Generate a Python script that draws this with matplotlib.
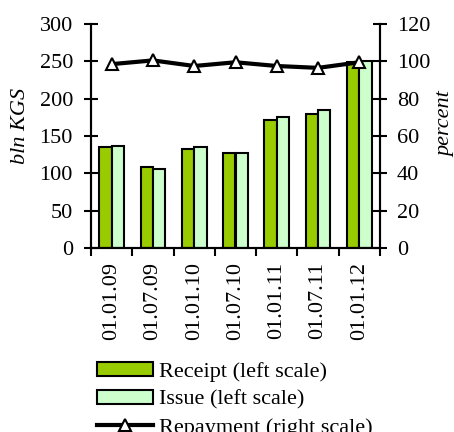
import numpy as np
import matplotlib.pyplot as plt
from matplotlib.lines import Line2D
from matplotlib.patches import Patch

plt.rcParams['font.family'] = ['Liberation Serif', 'DejaVu Serif']

dates = ["01.01.09", "01.07.09", "01.01.10", "01.07.10", "01.01.11", "01.07.11", "01.01.12"]
receipt = [135, 108, 132, 127, 172, 180, 249]
issue = [137, 106, 135, 127, 175, 185, 250]
repayment = [98.5, 100.5, 97.5, 99.5, 97.5, 96.5, 99.5]

fig = plt.figure(figsize=(4.54, 4.32), dpi=100)
ax = fig.add_axes([91 / 454, 1 - 248 / 432, (380 - 91) / 454, 224 / 432])
ax2 = ax.twinx()

x = np.arange(len(dates))
w = 0.3
ax.bar(x - w / 2, receipt, w, color="#99cc00", edgecolor="black", linewidth=1.5)
ax.bar(x + w / 2, issue, w, color="#ccffcc", edgecolor="black", linewidth=1.5)
ax2.plot(x, repayment, color="black", lw=3, marker="^", ms=8.5,
         mfc="white", mec="black", mew=1.5)

ax.set_xlim(-0.5, len(dates) - 0.5)
ax.set_ylim(0, 300)
ax2.set_ylim(0, 120)
ax.set_yticks(range(0, 301, 50))
ax2.set_yticks(range(0, 121, 20))

ax.set_xticks(x)
ax.set_xticklabels(dates, rotation=90, fontsize=16)
ax.tick_params(axis="x", length=0, pad=10)
ax.set_xticks(np.arange(-0.5, len(dates)), minor=True)
ax.tick_params(axis="x", which="minor", length=6, width=1.5, direction="out")

ax.tick_params(axis="y", direction="inout", length=10, width=1.5, labelsize=16, pad=8)
ax2.tick_params(axis="y", direction="inout", length=10, width=1.5, labelsize=16, pad=7)

for a in (ax, ax2):
    a.spines["top"].set_visible(False)
    for s in ("left", "right", "bottom"):
        a.spines[s].set_linewidth(1.5)

ax.set_ylabel("bln KGS", fontsize=16, style="italic")
ax.yaxis.set_label_coords(-0.212, 0.545)
ax2.set_ylabel("percent", fontsize=16, style="italic")
ax2.yaxis.set_label_coords(1.195, 0.553)

handles = [
    Patch(facecolor="#99cc00", edgecolor="black", linewidth=1.5, label="Receipt (left scale)"),
    Patch(facecolor="#ccffcc", edgecolor="black", linewidth=1.5, label="Issue (left scale)"),
    Line2D([], [], color="black", lw=3, marker="^", ms=8.5, mfc="white",
           mec="black", mew=1.5, label="Repayment (right scale)"),
]
fig.legend(handles=handles, loc="upper left", bbox_to_anchor=(97 / 454, 1 - 362 / 432),
           frameon=False, fontsize=16, handlelength=2.5, handleheight=0.6,
           labelspacing=0.36, handletextpad=0.3, borderaxespad=0, borderpad=0)

fig.savefig("out.png", dpi=100)
